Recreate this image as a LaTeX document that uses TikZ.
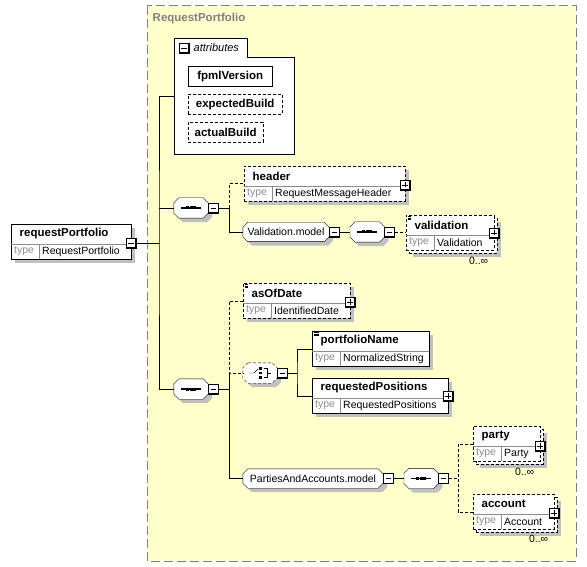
\documentclass[tikz,border=0pt]{standalone}
\usepackage{fontspec}
\setmainfont{Liberation Sans}
\usetikzlibrary{positioning}

\definecolor{groupfill}{RGB}{255,255,204}
\definecolor{groupline}{RGB}{128,128,128}
\definecolor{shadowgray}{RGB}{192,192,192}
\definecolor{keygray}{RGB}{140,140,140}

\pgfdeclarelayer{back}
\pgfdeclarelayer{shadow}
\pgfdeclarelayer{shapes}
\pgfsetlayers{back,shadow,shapes,main}

\tikzset{
  optional/.style={dash pattern=on 3pt off 2pt},
  elembox/.style={draw, fill=white, rectangle, minimum height=35pt, inner sep=0pt},
  divider/.style={draw=black!45, line width=0.7pt},
  elemname/.style={font=\fontsize{11.5}{13}\selectfont\bfseries, inner sep=1pt},
  typekey/.style={font=\fontsize{10.5}{12}\selectfont, text=keygray, inner sep=1pt},
  typeval/.style={font=\fontsize{10.5}{12}\selectfont, inner sep=1pt},
  occurs/.style={font=\fontsize{10.5}{12}\selectfont, inner sep=1pt},
  attrbox/.style={draw, fill=white, minimum height=20pt, inner sep=0pt, font=\fontsize{11.5}{13}\selectfont\bfseries},
  octbox/.style={rectangle, inner sep=0pt, minimum width=34pt, minimum height=20pt},
  modelgroup/.style={octbox, minimum height=19pt, font=\fontsize{10.5}{12}\selectfont},
  toggle/.style={draw, fill=white, minimum size=10pt, inner sep=0pt, line width=0.8pt},
  minusbox/.style={toggle, path picture={
    \draw[line width=2pt] (path picture bounding box.north east) -- (path picture bounding box.south east) -- (path picture bounding box.south west);
    \draw[line width=0.9pt] ([xshift=2pt]path picture bounding box.west) -- ([xshift=-2.5pt]path picture bounding box.east);}},
  plusbox/.style={toggle, path picture={
    \draw[line width=2pt] (path picture bounding box.north east) -- (path picture bounding box.south east) -- (path picture bounding box.south west);
    \draw[line width=0.9pt] ([xshift=2pt]path picture bounding box.west) -- ([xshift=-2.5pt]path picture bounding box.east);
    \draw[line width=0.9pt] ([yshift=-2pt]path picture bounding box.north) -- ([yshift=2.5pt]path picture bounding box.south);}},
  simple/.style={path picture={
    \foreach \k in {1.5,3,4.5}
      \draw[line width=0.6pt] ([xshift=1.5pt,yshift=-\k pt]path picture bounding box.north west) -- ++(5pt,0);}}
}

% grey shadow behind a box
\newcommand{\boxshadow}[1]{%
  \begin{pgfonlayer}{shadow}
    \fill[shadowgray] ([shift={(4pt,-4pt)}]#1.north west) rectangle ([shift={(4pt,-4pt)}]#1.south east);
  \end{pgfonlayer}}

% chamfered outline round a node, with its shadow
\newcommand{\octagon}[2][]{%
  \begin{pgfonlayer}{shadow}
    \fill[shadowgray] ([shift={(9pt,-4pt)}]#2.north west) -- ([shift={(-1pt,-4pt)}]#2.north east) -- ([shift={(4pt,-9pt)}]#2.north east) -- ([shift={(4pt,1pt)}]#2.south east) -- ([shift={(-1pt,-4pt)}]#2.south east) -- ([shift={(9pt,-4pt)}]#2.south west) -- ([shift={(4pt,1pt)}]#2.south west) -- ([shift={(4pt,-9pt)}]#2.north west) -- cycle;
  \end{pgfonlayer}
  \begin{pgfonlayer}{shapes}
    \draw[fill=white,#1] ([xshift=5pt]#2.north west) -- ([xshift=-5pt]#2.north east) -- ([yshift=-5pt]#2.north east) -- ([yshift=5pt]#2.south east) -- ([xshift=-5pt]#2.south east) -- ([xshift=5pt]#2.south west) -- ([yshift=5pt]#2.south west) -- ([yshift=-5pt]#2.north west) -- cycle;
  \end{pgfonlayer}}

% sequence and choice symbols
\newcommand{\seqicon}[1]{%
  \draw[line width=1.3pt] ([xshift=-10pt]#1.center) -- ([xshift=10pt]#1.center);
  \foreach \d in {-3.6,0,3.6}
    \fill ([xshift=\d pt]#1.center) +(-1.5pt,-1.5pt) rectangle +(1.5pt,1.5pt);}
\newcommand{\choiceicon}[1]{%
  \draw (#1.center) +(-11pt,0pt) -- +(-6pt,0pt) -- +(-2pt,4pt);
  \foreach \d in {-4.5,0,4.5}
    \fill (#1.center) +(-0.6pt,\d pt-1.3pt) rectangle +(2pt,\d pt+1.3pt);
  \draw (#1.center) +(3.5pt,4.5pt) -- +(7pt,4.5pt) -- +(7pt,-4.5pt) -- +(3.5pt,-4.5pt);
  \draw (#1.center) +(7pt,0pt) -- +(11pt,0pt);}

% element box: [style]{name}{x}{y}{width}{label}{type}
\newcommand{\element}[7][]{%
  \node[elembox,#1,minimum width=#5pt,anchor=north west] (#2) at (#3,#4) {};
  \draw[divider] ([yshift=-20pt]#2.north west) -- ([yshift=-20pt]#2.north east);
  \draw[divider] ([xshift=28pt,yshift=-20pt]#2.north west) -- ([xshift=28pt]#2.south west);
  \node[elemname,anchor=west] (#2-name) at ([xshift=7.5pt,yshift=-10pt]#2.north west) {#6};
  \node[typekey,anchor=west] (#2-key) at ([xshift=2pt,yshift=-27.5pt]#2.north west) {type};
  \node[typeval,anchor=west] (#2-type) at ([xshift=30pt,yshift=-27.5pt]#2.north west) {#7};
}

\begin{document}
\begin{tikzpicture}[x=1pt, y=-1pt, line width=0.9pt]
    \useasboundingbox (0,0) rectangle (587,567);

    % Complex type area
    \begin{pgfonlayer}{back}
      \draw[fill=groupfill, draw=groupline, line width=1pt, dash pattern=on 9pt off 4pt] (147,6) rectangle (576,561);
    \end{pgfonlayer}
    \node[elemname, text=groupline, anchor=west] (grouplabel) at (151.5,19) {RequestPortfolio};

    % Attributes
    \node[minimum width=120pt, minimum height=116pt, anchor=north west, inner sep=0pt] (attributes) at (174,38) {};
    \draw[fill=white] (attributes.south west) -- (attributes.north west) -- ++(73,0) |- ([yshift=-19pt]attributes.north east) -- (attributes.south east) -- cycle;
    \node[minusbox] (attributes-x) at (184,48.5) {};
    \node[typeval, font=\fontsize{11}{13}\selectfont\itshape, anchor=west] (attributes-title) at (192.5,48) {attributes};
    \node[attrbox, minimum width=84pt, anchor=north west] (fpmlVersion) at (188,66) {fpmlVersion};
    \node[attrbox, optional, minimum width=94pt, anchor=north west] (expectedBuild) at (188,94) {expectedBuild};
    \node[attrbox, optional, minimum width=75pt, anchor=north west] (actualBuild) at (188,122) {actualBuild};
    \boxshadow{fpmlVersion} \boxshadow{expectedBuild} \boxshadow{actualBuild}

    % Root element
    \element{reqP}{11}{224}{120}{requestPortfolio}{RequestPortfolio}
    \boxshadow{reqP}
    \node[minusbox] (reqP-x) at ([yshift=-19pt]reqP.north east) {};

    % First sequence
    \node[octbox] (seq1) at (191,208) {};
    \octagon{seq1} \seqicon{seq1}
    \node[minusbox, anchor=west] (seq1-x) at (seq1.east) {};
    \element[optional]{header}{244}{166}{161}{header}{RequestMessageHeader}
    \boxshadow{header}
    \node[plusbox] (header-x) at ([yshift=-19pt]header.north east) {};
    \node[modelgroup, minimum width=86pt] (valmodel) at (286,232) {Validation.model};
    \octagon{valmodel}
    \node[minusbox, anchor=west] (valmodel-x) at (valmodel.east) {};
    \node[octbox, right=10pt of valmodel-x] (seq3) {};
    \octagon{seq3} \seqicon{seq3}
    \node[minusbox, anchor=west] (seq3-x) at (seq3.east) {};
    \node[elembox, optional, minimum width=88pt, anchor=north west] (validation-back) at (409,218) {};
    \boxshadow{validation-back}
    \element[optional, simple]{validation}{406}{215}{88}{validation}{Validation}
    \node[plusbox] (validation-x) at ([yshift=-18pt]validation.north east) {};
    \node[occurs, anchor=north east] (validation-occ) at ([xshift=-8pt,yshift=-3pt]validation-back.south east) {0..∞};

    % Second sequence
    \node[octbox] (seq2) at (191,389) {};
    \octagon{seq2} \seqicon{seq2}
    \node[minusbox, anchor=west] (seq2-x) at (seq2.east) {};
    \element[optional, simple]{asOfDate}{243}{283}{107}{asOfDate}{IdentifiedDate}
    \boxshadow{asOfDate}
    \node[plusbox] (asOfDate-x) at ([yshift=-19pt]asOfDate.north east) {};
    \node[octbox] (choice) at (260,373) {};
    \octagon[optional]{choice} \choiceicon{choice}
    \node[minusbox, anchor=west] (choice-x) at (choice.east) {};
    \element[simple]{portfolioName}{312}{331}{117}{portfolioName}{NormalizedString}
    \boxshadow{portfolioName}
    \element{requestedPositions}{312}{378}{136}{requestedPositions}{RequestedPositions}
    \boxshadow{requestedPositions}
    \node[plusbox] (requestedPositions-x) at ([yshift=-18pt]requestedPositions.north east) {};

    % Parties and accounts
    \node[modelgroup, minimum width=140pt] (pam) at (313,478.5) {PartiesAndAccounts.model};
    \octagon{pam}
    \node[minusbox, anchor=west] (pam-x) at (pam.east) {};
    \node[octbox, right=10pt of pam-x] (seq4) {};
    \octagon{seq4} \seqicon{seq4}
    \node[minusbox, anchor=west] (seq4-x) at (seq4.east) {};
    \node[elembox, optional, minimum width=67pt, anchor=north west] (party-back) at (476,429) {};
    \boxshadow{party-back}
    \element[optional]{party}{473}{426}{67}{party}{Party}
    \node[plusbox] (party-x) at ([yshift=-20pt]party.north east) {};
    \node[occurs, anchor=north east] (party-occ) at ([xshift=-8pt,yshift=-3pt]party-back.south east) {0..∞};
    \node[elembox, optional, minimum width=81pt, anchor=north west] (account-back) at (476,497) {};
    \boxshadow{account-back}
    \element[optional]{account}{473}{494}{81}{account}{Account}
    \node[plusbox] (account-x) at ([yshift=-19pt]account.north east) {};
    \node[occurs, anchor=north east] (account-occ) at ([xshift=-8pt,yshift=-2pt]account-back.south east) {0..∞};

    % Connections
    \coordinate (trunk) at (159,243);
    \draw (reqP-x.east) -- (trunk);
    \draw (attributes.west) -| (trunk) |- (seq2.west);
    \draw (trunk |- seq1.west) -- (seq1.west);

    \coordinate (fork1) at ([xshift=10pt]seq1-x.east);
    \draw (seq1-x.east) -- (fork1) |- (valmodel.west);
    \draw[optional] (fork1) |- (header.west);
    \draw (valmodel-x.east) -- (seq3.west);
    \draw[optional] (seq3-x.east) -- (seq3-x.east -| validation.west);

    \coordinate (fork2) at ([xshift=10pt]seq2-x.east);
    \draw (seq2-x.east) -- (fork2);
    \draw[optional] (asOfDate.west) -| (fork2 |- choice.west) -- (choice.west);
    \draw (fork2 |- choice.west) |- (pam.west);
    \coordinate (fork3) at ([xshift=9pt]choice-x.east);
    \draw (choice-x.east) -- (fork3);
    \draw (portfolioName.west) -| (fork3) |- (requestedPositions.west);

    \draw (pam-x.east) -- (seq4.west);
    \coordinate (fork4) at ([xshift=9pt]seq4-x.east);
    \draw[optional] (seq4-x.east) -- (fork4);
    \draw[optional] (party.west) -| (fork4) |- (account.west);
\end{tikzpicture}
\end{document}
